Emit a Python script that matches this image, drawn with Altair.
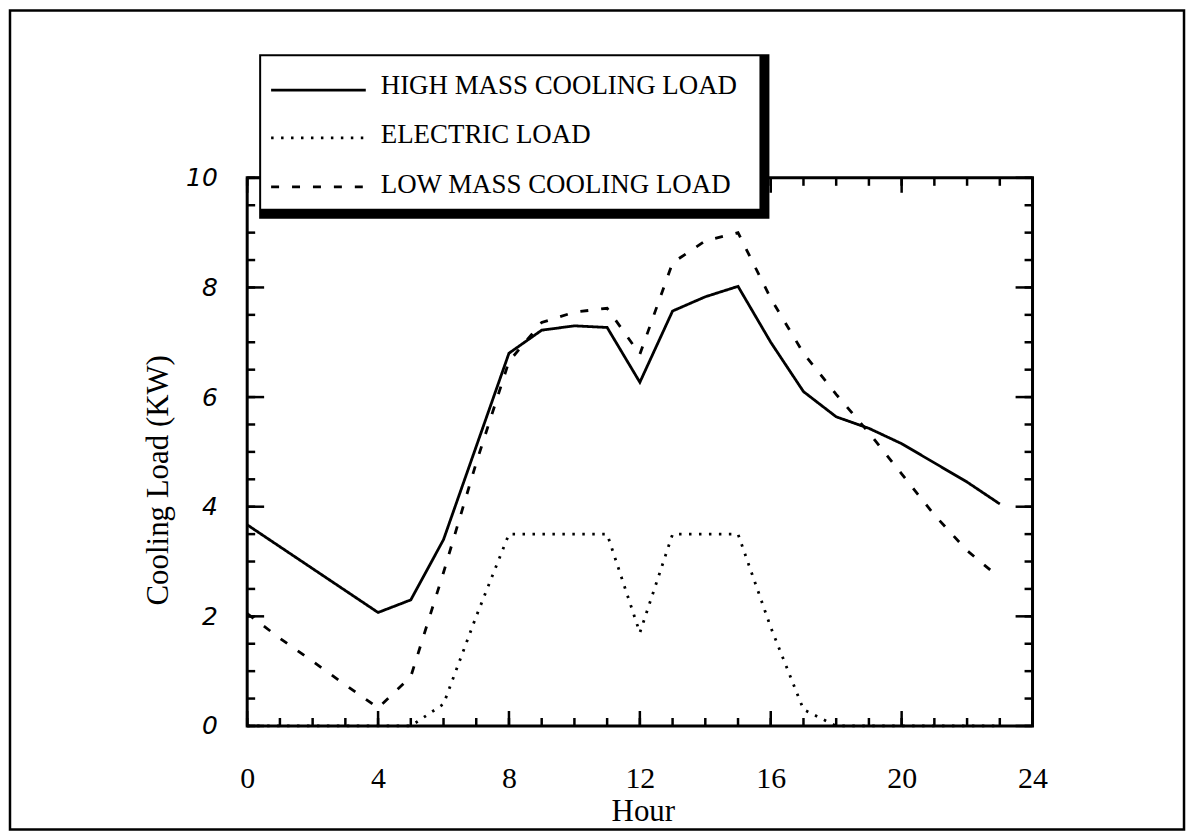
import altair as alt
import pandas as pd

# ---------------- data ----------------
hours = list(range(24))
high_mass = [3.67, 3.27, 2.87, 2.47, 2.07, 2.30, 3.40, 5.10, 6.80, 7.22, 7.30, 7.27,
             6.27, 7.57, 7.83, 8.02, 7.00, 6.10, 5.64, 5.43, 5.15, 4.80, 4.45, 4.05]
electric = [0.0, 0.0, 0.0, 0.0, 0.0, 0.0, 0.40, 2.00, 3.50, 3.50, 3.50, 3.50,
            1.70, 3.50, 3.50, 3.50, 1.80, 0.30, 0.0, 0.0, 0.0, 0.0, 0.0, 0.0]
low_mass = [2.05, 1.60, 1.18, 0.75, 0.33, 0.90, 2.80, 4.80, 6.65, 7.36, 7.55, 7.62,
            6.78, 8.45, 8.85, 9.00, 7.80, 6.80, 6.05, 5.35, 4.60, 3.85, 3.20, 2.70]
series_names = ["HIGH MASS COOLING LOAD", "ELECTRIC LOAD", "LOW MASS COOLING LOAD"]

x_label_values = [0, 4, 8, 12, 16, 20, 24]
y_label_values = [0, 2, 4, 6, 8, 10]
x_minor_ticks = list(range(25))
y_minor_ticks = [i * 0.5 for i in range(21)]

# ---------------- layout / style ----------------
W, H = 788, 550
SERIF = "Liberation Serif"
dash_range = [[1, 0], [2.5, 7.5], [8, 13]]

rows = []
for name, vals in zip(series_names, [high_mass, electric, low_mass]):
    for h, v in zip(hours, vals):
        rows.append({"hour": h, "load": v, "series": name})
df = pd.DataFrame(rows)

xs = alt.Scale(domain=[0, 24], nice=False, zero=False)
ys = alt.Scale(domain=[0, 10], nice=False, zero=False)

lines = alt.Chart(df).mark_line(color="black", strokeWidth=2.8).encode(
    x=alt.X("hour:Q", scale=xs, axis=alt.Axis(
        values=x_label_values, tickSize=0, domain=False, grid=False,
        labelFont=SERIF, labelFontSize=30, labelPadding=38, labelFlush=False,
        labelColor="black", title="Hour", titleFont=SERIF, titleFontSize=31,
        titleFontWeight="normal", titleColor="black", titleY=95, titleX=397,
        titleBaseline="alphabetic")),
    y=alt.Y("load:Q", scale=ys, axis=alt.Axis(
        values=y_label_values, tickSize=0, domain=False, grid=False,
        labelFont="DejaVu Sans", labelFontSize=25, labelFontStyle="italic",
        labelFontWeight=200, labelPadding=30, labelAlign="right",
        labelBaseline="middle", labelColor="black",
        title="Cooling Load (KW)", titleFont=SERIF, titleFontSize=31,
        titleFontWeight="normal", titleColor="black", titleX=-80, titleY=303,
        titleAngle=270, titleAlign="center", titleBaseline="alphabetic")),
    strokeDash=alt.StrokeDash("series:N", scale=alt.Scale(domain=series_names, range=dash_range),
                              legend=None),
    detail="series:N",
)

xminor = pd.DataFrame({"v": x_minor_ticks})
xmajor = pd.DataFrame({"v": x_label_values})
yminor = pd.DataFrame({"v": y_minor_ticks})
ymajor = pd.DataFrame({"v": y_label_values})

tick_style = dict(color="black", strokeWidth=2.5)


def xticks(data, length):
    bottom = alt.Chart(data).mark_rule(**tick_style).encode(
        x=alt.X("v:Q", scale=xs, axis=None), y=alt.value(H), y2=alt.value(H - length))
    top = alt.Chart(data).mark_rule(**tick_style).encode(
        x=alt.X("v:Q", scale=xs, axis=None), y=alt.value(0), y2=alt.value(length))
    return [bottom, top]


def yticks(data, length):
    left = alt.Chart(data).mark_rule(**tick_style).encode(
        y=alt.Y("v:Q", scale=ys, axis=None), x=alt.value(0), x2=alt.value(length))
    right = alt.Chart(data).mark_rule(**tick_style).encode(
        y=alt.Y("v:Q", scale=ys, axis=None), x=alt.value(W), x2=alt.value(W - length))
    return [left, right]


ticks = xticks(xminor, 8) + xticks(xmajor, 15) + yticks(yminor, 8) + yticks(ymajor, 17)

one = pd.DataFrame({"a": [0]})

outer_border = alt.Chart(one).mark_rect(fill="white", fillOpacity=0, stroke="black",
                                        strokeWidth=2.5).encode(
    x=alt.value(-238), x2=alt.value(940), y=alt.value(-168), y2=alt.value(654))

legend_shadow = alt.Chart(one).mark_rect(color="black").encode(
    x=alt.value(12), x2=alt.value(524), y=alt.value(-124), y2=alt.value(41))
legend_box = alt.Chart(one).mark_rect(color="white").encode(
    x=alt.value(14), x2=alt.value(514), y=alt.value(-122), y2=alt.value(31))

legend_layers = []
sample_y = [-88, -40, 9]
text_y = [-84, -35, 15]
for name, dash, sy, ty in zip(series_names, dash_range, sample_y, text_y):
    d = pd.DataFrame({"name": [name]})
    legend_layers.append(alt.Chart(d).mark_rule(color="black", strokeWidth=2.8,
                                                strokeDash=dash).encode(
        x=alt.value(24), x2=alt.value(119), y=alt.value(sy)))
    legend_layers.append(alt.Chart(d).mark_text(align="left", baseline="alphabetic",
                                                font=SERIF, fontSize=27,
                                                color="black").encode(
        x=alt.value(134), y=alt.value(ty), text="name:N"))

chart = alt.layer(
    lines, *ticks, outer_border, legend_shadow, legend_box, *legend_layers
).resolve_axis(
    x="independent", y="independent"
).properties(
    width=W, height=H,
    padding={"left": 240, "top": 169, "right": 156, "bottom": 106},
    autosize=alt.AutoSizeParams(type="none"),
    background="white",
).configure_view(stroke="black", strokeWidth=3)

chart.save("out.html", embed_options={"renderer": "svg", "actions": False})
